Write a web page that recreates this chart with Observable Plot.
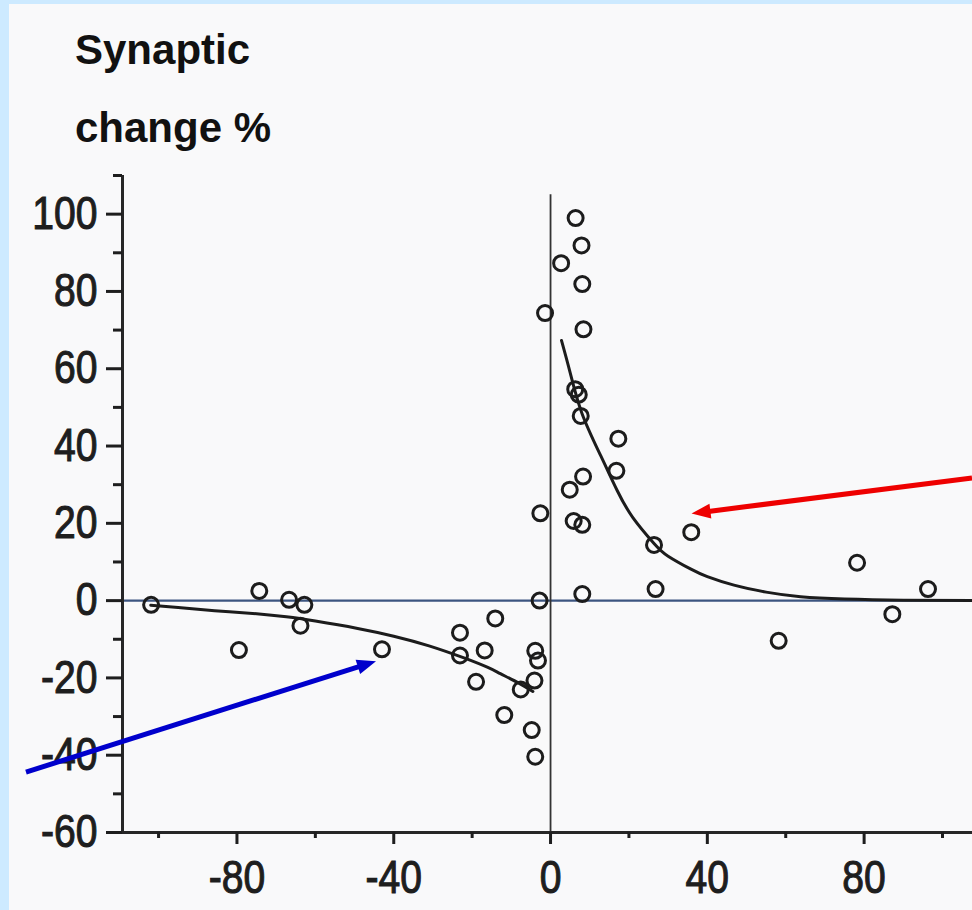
<!DOCTYPE html>
<html><head><meta charset="utf-8">
<script src="https://cdn.jsdelivr.net/npm/d3@7"></script>
<script src="https://cdn.jsdelivr.net/npm/@observablehq/plot@0.6"></script>
<style>
html,body{margin:0;padding:0;width:972px;height:910px;overflow:hidden;background:#cdeaff;}
#panel{position:absolute;left:9px;top:4px;width:963px;height:906px;background:#f9f9fa;}
#chart{position:absolute;left:0;top:0;}
.title{position:absolute;left:75px;font-family:"Liberation Sans",Arial,sans-serif;font-weight:bold;font-size:42px;line-height:42px;color:#111;white-space:nowrap;}
</style></head><body>
<div id="panel"></div>
<div class="title" style="top:29px">Synaptic</div>
<div class="title" style="top:107px">change %</div>
<div id="chart"></div>
<script>
// Spike timing (ms) and synaptic change (%) for each cell pair
const timing = [-101.9,-79.5,-74.3,-66.7,-62.8,-63.8,-43,-23.1,-23.1,-16.8,-14.1,-19,-11.8,-7.6,-3.9,-3.2,-4.1,-4.8,-3.9,-2.8,-2.6,-1.4,
  6.4,7.9,2.7,8.1,8.4,6.3,7.2,7.7,17.3,16.8,8.3,4.9,5.9,8.1,35.9,26.4,78.2,8.1,26.8,96.3,87.2,58.2];
const change = [-1.1,-12.8,2.5,0.2,-1.1,-6.5,-12.6,-8.3,-14.2,-12.9,-4.6,-21,-29.6,-23,-13,-15.5,-20.7,-33.5,-40.4,0,22.6,74.4,
  99,91.9,87.3,81.9,70.2,54.7,53.3,47.8,41.9,33.6,32.1,28.7,20.6,19.6,17.7,14.4,9.8,1.7,3.0,3.0,-3.5,-10.4];

// Fitted curves
const ltpX = [2.8,5,8,12.8,17,21,26.4,30,35.7,40,46.8,55,63.8,75,90,107.6];
const ltpY = [67.3,59,48.5,37.5,28.5,21.5,14.8,11.5,8.2,6.2,4.0,2.2,1.0,0.4,0.1,0];
const ltdX = [-102,-95,-85.7,-75,-67.4,-60,-49.2,-40,-31,-21.9,-16,-12.8,-8,-4.5];
const ltdY = [-1.2,-1.8,-2.6,-3.4,-4.2,-5.3,-7.2,-9.2,-11.7,-14.9,-17.3,-18.9,-21.4,-23.5];

// Axes
const xTicks = [-80,-40,0,40,80];
const xMinorTicks = [-100,-60,-20,20,60,100];
const yTicks = [-60,-40,-20,0,20,40,60,80,100];
const yMinorTicks = [-50,-30,-10,10,30,50,70,90,110];
const xDomain = [-109.2, 107.65];
const yDomain = [-60, 110];
const zeroAxisTop = 105;

// Annotation arrows
const arrowColor = ["#ee0000", "#0000cc"];
const arrowX1 = [107.65, -133.7];
const arrowY1 = [31.6, -44.5];
const arrowX2 = [36.1, -44.4];
const arrowY2 = [22.4, -15.8];

const labelFont = '"Liberation Sans",Arial,sans-serif';
const ink = "#1c1c1c";

const arrows = (index, scales) => {
  const g = d3.create("svg:g");
  for (let i = 0; i < arrowColor.length; i++) {
    const x1 = scales.x(arrowX1[i]), y1 = scales.y(arrowY1[i]);
    const x2 = scales.x(arrowX2[i]), y2 = scales.y(arrowY2[i]);
    const a = Math.atan2(y2 - y1, x2 - x1), L = 19, W = 7.5;
    const bx = x2 - L * Math.cos(a), by = y2 - L * Math.sin(a);
    g.append("line").attr("x1", x1).attr("y1", y1).attr("x2", bx + 2*Math.cos(a)).attr("y2", by + 2*Math.sin(a))
      .attr("stroke", arrowColor[i]).attr("stroke-width", 5);
    g.append("polygon")
      .attr("points", [[x2, y2], [bx + W*Math.sin(a), by - W*Math.cos(a)], [bx - W*Math.sin(a), by + W*Math.cos(a)]].map(p => p.join(",")).join(" "))
      .attr("fill", arrowColor[i]);
  }
  return g.node();
};

const chart = Plot.plot({
  width: 972, height: 910,
  marginLeft: 122, marginRight: 0, marginTop: 175, marginBottom: 78,
  style: {background: "transparent", fontFamily: labelFont, overflow: "visible"},
  x: {domain: xDomain, label: null},
  y: {domain: yDomain, label: null},
  marks: [
    Plot.ruleY([0], {x1: xDomain[0], x2: xDomain[1], stroke: "#3c5580", strokeWidth: 2.2}),
    Plot.ruleX([0], {y1: zeroAxisTop, y2: yDomain[0], stroke: "#333", strokeWidth: 1.8}),
    Plot.line(ltpX, {x: ltpX, y: ltpY, curve: "natural", stroke: ink, strokeWidth: 3}),
    Plot.line(ltdX, {x: ltdX, y: ltdY, curve: "natural", stroke: ink, strokeWidth: 3}),
    Plot.dot(timing, {x: timing, y: change, r: 7.5, stroke: ink, strokeWidth: 3, fill: "none"}),
    Plot.ruleX([xDomain[0]], {y1: yDomain[0], y2: yDomain[1], stroke: "#262626", strokeWidth: 3}),
    Plot.ruleY([yDomain[0]], {x1: xDomain[0], x2: xDomain[1], stroke: "#262626", strokeWidth: 3}),
    Plot.axisY({ticks: yTicks, tickSize: 16, tickPadding: 9, tickFormat: d => String(d), fontSize: 46, fontFamily: labelFont, color: "#1e1e1e", strokeWidth: 3}),
    Plot.axisY({ticks: yMinorTicks, tickSize: 9, text: null, color: "#1e1e1e", strokeWidth: 3}),
    Plot.axisX({ticks: xTicks, tickSize: 12, tickPadding: 16, tickFormat: d => String(d), fontSize: 46, fontFamily: labelFont, color: "#1e1e1e", strokeWidth: 3}),
    Plot.axisX({ticks: xMinorTicks, tickSize: 6, text: null, color: "#1e1e1e", strokeWidth: 3}),
    arrows
  ]
});
document.getElementById("chart").appendChild(chart);

// condensed, heavier tick labels like the scanned original
d3.select(chart).selectAll('g[aria-label="y-axis tick label"] text, g[aria-label="x-axis tick label"] text')
  .each(function() {
    const len = this.getComputedTextLength();
    this.setAttribute("textLength", (len * 0.85).toFixed(1));
    this.setAttribute("lengthAdjust", "spacingAndGlyphs");
  })
  .attr("stroke", "#1e1e1e").attr("stroke-width", 1.1);
</script></body></html>
